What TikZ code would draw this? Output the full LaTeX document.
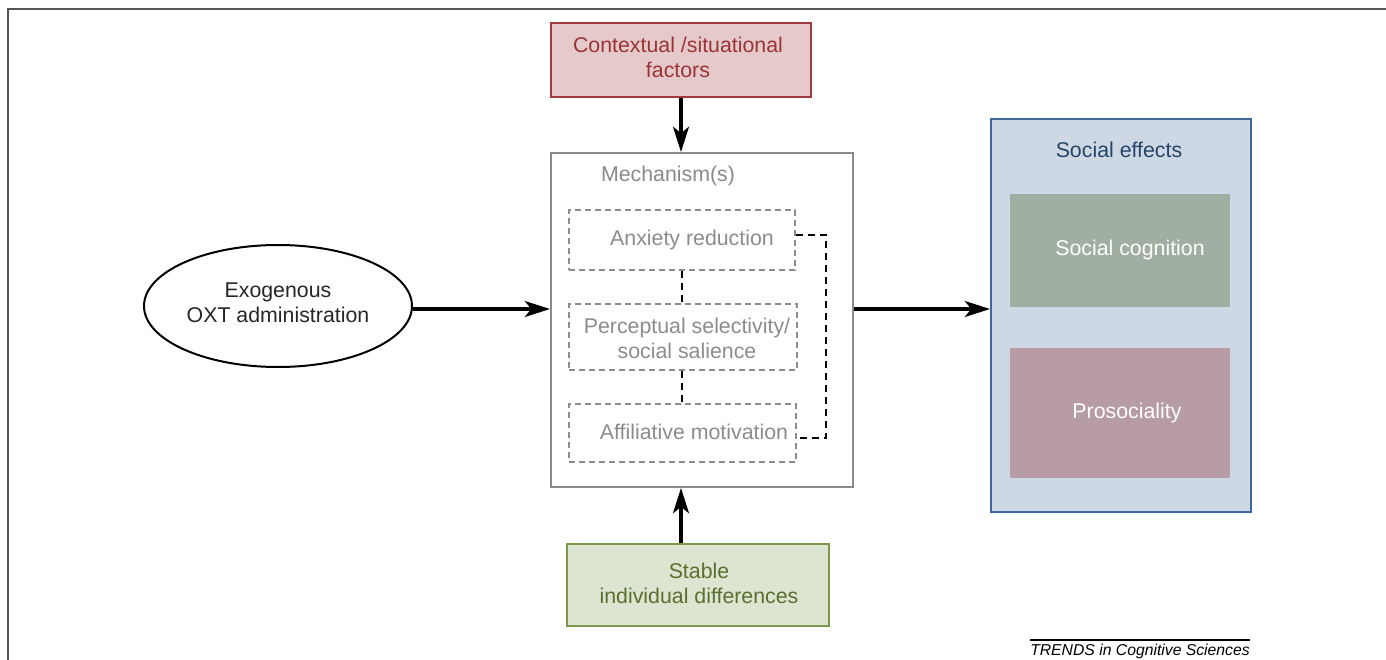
\documentclass[tikz,border=0pt]{standalone}
\usepackage{fontspec}
\setmainfont{Liberation Sans}
\usetikzlibrary{arrows.meta,shapes.geometric}
\definecolor{ctxfill}{HTML}{E6CACB}
\definecolor{ctxdraw}{HTML}{A03A3C}
\definecolor{ctxtext}{HTML}{9A3436}
\definecolor{mechgray}{HTML}{8A8A8A}
\definecolor{boxgray}{HTML}{8C8C8C}
\definecolor{seffill}{HTML}{CDD8E4}
\definecolor{sedraw}{HTML}{3E689C}
\definecolor{setext}{HTML}{244468}
\definecolor{scfill}{HTML}{A0AFA2}
\definecolor{prfill}{HTML}{B89CA5}
\definecolor{stfill}{HTML}{DDE4D0}
\definecolor{stdraw}{HTML}{7C9A4C}
\definecolor{sttext}{HTML}{587030}
\definecolor{framegray}{HTML}{555555}
\tikzset{
  txt/.style={font=\fontsize{16}{18.75}\selectfont, align=center, inner sep=0pt},
  plainbox/.style={rectangle, inner sep=0pt},
  dbox/.style={rectangle, draw=boxgray, line width=1.4pt, dash pattern=on 4.5pt off 3pt, inner sep=0pt},
  arr/.style={line width=2.3pt, -{Stealth[length=19pt,width=12pt,inset=5pt]}},
  dlink/.style={line width=1.8pt, dash pattern=on 5.5pt off 3.5pt, draw=black}
}
\begin{document}
\begin{tikzpicture}[x=0.75pt,y=-0.75pt]
\useasboundingbox (0,0) rectangle (1386,660);
% frame
\draw[framegray, line width=1.5pt] (8,660) -- (8,9) -- (1386,9);
% contextual
\node[plainbox, draw=ctxdraw, line width=1.6pt, fill=ctxfill, minimum width=195pt, minimum height=55.5pt] (ctx) at (681,60) {};
\node[txt, text=ctxtext] (ctxt) at (678,57) {Contextual /situational\\factors};
% mechanism
\node[plainbox, draw=mechgray, line width=1.5pt, fill=white, minimum width=226.5pt, minimum height=250.5pt] (mech) at (702,320) {};
\node[txt, text=mechgray] (mecht) at (668,176) {Mechanism(s)};
\node[dbox, minimum width=169.5pt, minimum height=45pt] (anx) at (682,240) {};
\node[txt, text=boxgray] (anxt) at (692,240) {Anxiety reduction};
\node[dbox, minimum width=171pt, minimum height=49.5pt] (perc) at (683,337) {};
\node[txt, text=boxgray] (perct) at (687,338) {Perceptual selectivity/\\social salience};
\node[dbox, minimum width=170.25pt, minimum height=43.5pt] (aff) at (682.5,433) {};
\node[txt, text=boxgray] (afft) at (694,432) {Affiliative motivation};
% ellipse
\node[ellipse, draw=black, line width=1.5pt, minimum width=201pt, minimum height=91.5pt, inner sep=0pt] (oxt) at (278,306) {};
\node[txt, text=black!85] (oxtt) at (278,303) {Exogenous\\OXT administration};
% social effects
\node[plainbox, draw=sedraw, line width=1.5pt, fill=seffill, minimum width=195pt, minimum height=294.75pt] (se) at (1121,315.5) {};
\node[txt, text=setext] (set) at (1119,150) {Social effects};
\node[plainbox, fill=scfill, minimum width=165pt, minimum height=84.75pt] (sc) at (1120,250.5) {};
\node[txt, text=white] (sct) at (1130,250) {Social cognition};
\node[plainbox, fill=prfill, minimum width=165pt, minimum height=97.5pt] (pr) at (1120,413) {};
\node[txt, text=white] (prt) at (1127,413) {Prosociality};
% stable
\node[plainbox, draw=stdraw, line width=1.6pt, fill=stfill, minimum width=196.5pt, minimum height=61.5pt] (st) at (698,585) {};
\node[txt, text=sttext] (stt) at (699,583) {Stable\\individual differences};
% arrows
\coordinate (ax) at (681,0);
\draw[arr] (ctx.south -| ax) -- (mech.north -| ax);
\draw[arr] (st.north -| ax) -- (mech.south -| ax);
\coordinate (ay) at (0,309);
\draw[arr] (oxt.east |- ay) -- (mech.west |- ay);
\draw[arr] (mech.east |- ay) -- (se.west |- ay);
% dashed links
\draw[dlink] (anx.south) -- (perc.north -| anx.south);
\draw[dlink] (perc.south -| anx.south) -- (aff.north -| anx.south);
\draw[dlink] ([yshift=3.75pt]anx.east) -- ++(30,0) |- ([yshift=-3.75pt]aff.east);
% trends
\coordinate (tl) at (1030,640);
\coordinate (tr) at (1250,640);
\draw[black, line width=0.8pt] (tl) -- (tr);
\node[font=\fontsize{11.8}{13}\selectfont\itshape, inner sep=0pt, anchor=north west] (trends) at (1030,644) {TRENDS in Cognitive Sciences};
\end{tikzpicture}
\end{document}
